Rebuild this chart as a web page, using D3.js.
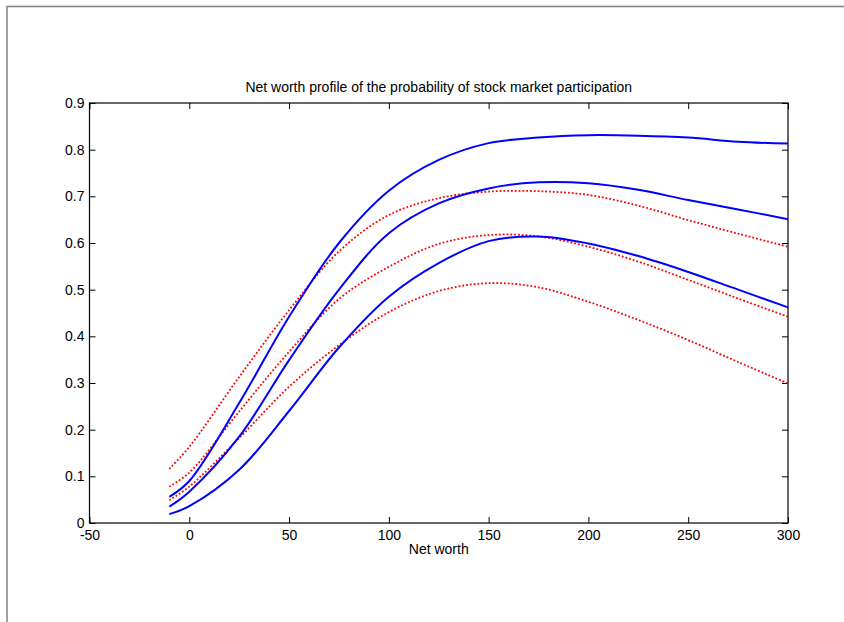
<!DOCTYPE html>
<html>
<head>
<meta charset="utf-8">
<script src="https://cdn.jsdelivr.net/npm/d3@7"></script>
<style>
  body { margin: 0; background: #fff; }
  svg { display: block; font-family: "Liberation Sans", Arial, sans-serif; }
</style>
</head>
<body>
<svg id="chart"></svg>
<script>
// net worth grid (x values)
const netWorth = [-10, 0, 25, 50, 75, 100, 125, 150, 175, 200, 225, 250, 275, 300];

// solid blue curves
const blueUpper = [0.056, 0.090, 0.257, 0.442, 0.600, 0.712, 0.778, 0.814, 0.826, 0.831, 0.830, 0.826, 0.817, 0.813];
const blueMid = [0.035, 0.067, 0.185, 0.349, 0.500, 0.621, 0.685, 0.717, 0.730, 0.728, 0.714, 0.692, 0.672, 0.651];
const blueLower = [0.019, 0.036, 0.114, 0.240, 0.376, 0.485, 0.557, 0.604, 0.614, 0.599, 0.572, 0.538, 0.500, 0.462];

// dotted red curves
const redUpper = [0.116, 0.163, 0.313, 0.456, 0.582, 0.660, 0.696, 0.710, 0.711, 0.703, 0.680, 0.649, 0.620, 0.592];
const redMid = [0.078, 0.108, 0.239, 0.367, 0.480, 0.549, 0.598, 0.617, 0.614, 0.592, 0.560, 0.521, 0.481, 0.442];
const redLower = [0.049, 0.078, 0.182, 0.292, 0.381, 0.452, 0.497, 0.514, 0.505, 0.474, 0.435, 0.392, 0.345, 0.299];

const xTicks = [-50, 0, 50, 100, 150, 200, 250, 300];
const yTicks = [0, 0.1, 0.2, 0.3, 0.4, 0.5, 0.6, 0.7, 0.8, 0.9];

const titleText = "Net worth profile of the probability of stock market participation";
const xLabelText = "Net worth";

function getConfig() {
  const dimensions = {
    width: 844,
    height: 622,
    margin: { top: 103, bottom: 99, left: 89.5, right: 56 }
  };
  const svg = d3.select("#chart")
    .attr("width", dimensions.width)
    .attr("height", dimensions.height);
  return {
    dimensions,
    container: svg,
    inner: {
      width: dimensions.width - dimensions.margin.left - dimensions.margin.right,
      height: dimensions.height - dimensions.margin.top - dimensions.margin.bottom
    }
  };
}

function getScales(config) {
  const xScale = d3.scaleLinear().domain([-50, 300]).range([0, config.inner.width]);
  const yScale = d3.scaleLinear().domain([0, 0.9]).range([config.inner.height, 0]);
  return { xScale, yScale };
}

function drawFrame(config) {
  // page border seen on left and top of the picture
  config.container.append("path")
    .attr("d", "M7,622 V6.5 H844")
    .attr("fill", "none")
    .attr("stroke", "#808080")
    .attr("stroke-width", 1.5);
}

function drawAxes(config, scales) {
  const { container, dimensions, inner } = config;
  const { xScale, yScale } = scales;
  const m = dimensions.margin;
  const tick = 6;

  const g = container.append("g").attr("transform", `translate(${m.left},${m.top})`);

  const styleAxis = sel => {
    sel.select(".domain").remove();
    sel.selectAll("line").attr("stroke", "#000");
    sel.selectAll("text").attr("fill", "#000").style("font-size", "14px");
  };

  g.append("g")
    .attr("transform", `translate(0,${inner.height})`)
    .call(d3.axisBottom(xScale).tickValues(xTicks).tickSizeInner(-tick).tickSizeOuter(0).tickPadding(7).tickFormat(d => String(d)))
    .call(styleAxis);

  g.append("g")
    .call(d3.axisTop(xScale).tickValues(xTicks).tickSizeInner(-tick).tickSizeOuter(0).tickFormat(""))
    .call(styleAxis);

  g.append("g")
    .call(d3.axisLeft(yScale).tickValues(yTicks).tickSizeInner(-tick).tickSizeOuter(0).tickPadding(5).tickFormat(d => d === 0 ? "0" : d3.format(".1f")(d)))
    .call(styleAxis);

  g.append("g")
    .attr("transform", `translate(${inner.width},0)`)
    .call(d3.axisRight(yScale).tickValues(yTicks).tickSizeInner(-tick).tickSizeOuter(0).tickFormat(""))
    .call(styleAxis);

  g.append("rect")
    .attr("width", inner.width)
    .attr("height", inner.height)
    .attr("fill", "none")
    .attr("stroke", "#000")
    .attr("stroke-width", 1.2);

  return g;
}

function drawCurves(plot, scales) {
  const { xScale, yScale } = scales;
  const line = d3.line()
    .x((d, i) => xScale(netWorth[i]))
    .y(d => yScale(d))
    .curve(d3.curveCatmullRom.alpha(0.5));

  [redUpper, redMid, redLower].forEach(series => {
    plot.append("path")
      .attr("d", line(series))
      .attr("fill", "none")
      .attr("stroke", "#ff0000")
      .attr("stroke-width", 1.8)
      .attr("stroke-dasharray", "1.8,2");
  });

  [blueUpper, blueMid, blueLower].forEach(series => {
    plot.append("path")
      .attr("d", line(series))
      .attr("fill", "none")
      .attr("stroke", "#0000ff")
      .attr("stroke-width", 2);
  });
}

function addLabels(config) {
  const { container, dimensions, inner } = config;
  const cx = dimensions.margin.left + inner.width / 2;
  container.append("text")
    .attr("x", cx)
    .attr("y", dimensions.margin.top - 11)
    .attr("text-anchor", "middle")
    .style("font-size", "14px")
    .text(titleText);
  container.append("text")
    .attr("x", cx)
    .attr("y", dimensions.margin.top + inner.height + 31)
    .attr("text-anchor", "middle")
    .style("font-size", "14px")
    .text(xLabelText);
}

function render() {
  const config = getConfig();
  const scales = getScales(config);
  drawFrame(config);
  const plot = drawAxes(config, scales);
  drawCurves(plot, scales);
  addLabels(config);
}

render();
</script>
</body>
</html>
